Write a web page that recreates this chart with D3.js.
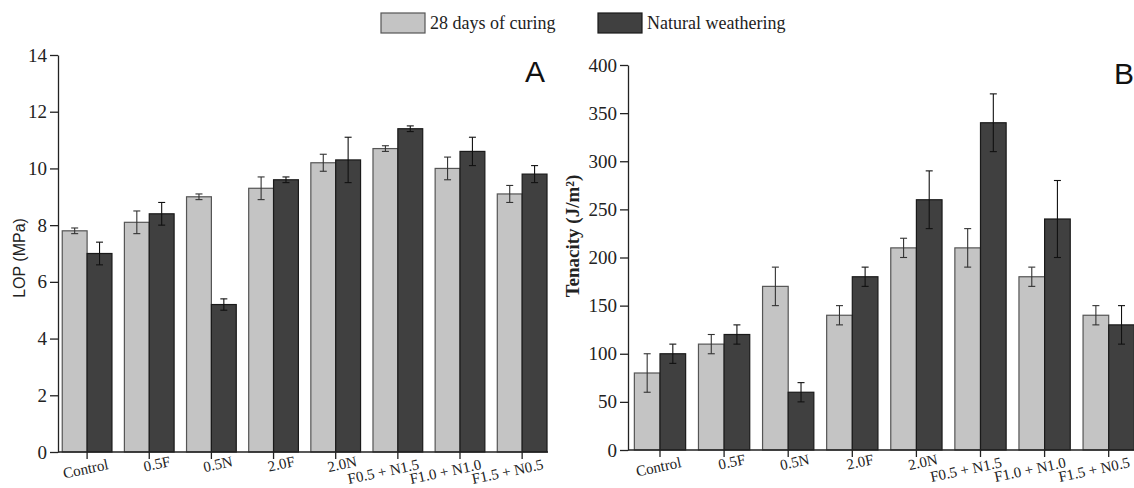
<!DOCTYPE html>
<html>
<head>
<meta charset="utf-8">
<script src="https://cdn.jsdelivr.net/npm/d3@7"></script>
<style>
  body { margin: 0; background: #fff; }
  svg { display: block; }
</style>
</head>
<body>
<div id="chart"></div>
<script>
// values
var categories = ["Control", "0.5F", "0.5N", "2.0F", "2.0N", "F0.5 + N1.5", "F1.0 + N1.0", "F1.5 + N0.5"];
var seriesNames = ["28 days of curing", "Natural weathering"];

var lopCuring = [7.8, 8.1, 9.0, 9.3, 10.2, 10.7, 10.0, 9.1];
var lopCuringErr = [0.1, 0.4, 0.1, 0.4, 0.3, 0.1, 0.4, 0.3];
var lopWeather = [7.0, 8.4, 5.2, 9.6, 10.3, 11.4, 10.6, 9.8];
var lopWeatherErr = [0.4, 0.4, 0.2, 0.1, 0.8, 0.1, 0.5, 0.3];

var tenCuring = [80, 110, 170, 140, 210, 210, 180, 140];
var tenCuringErr = [20, 10, 20, 10, 10, 20, 10, 10];
var tenWeather = [100, 120, 60, 180, 260, 340, 240, 130];
var tenWeatherErr = [10, 10, 10, 10, 30, 30, 40, 20];

var lopTicks = [0, 2, 4, 6, 8, 10, 12, 14];
var tenTicks = [0, 50, 100, 150, 200, 250, 300, 350, 400];

var colors = ["#c4c4c4", "#404040"];
var strokes = ["#555", "#1a1a1a"];

var width = 1134, height = 488;

var svg = d3.select("#chart").append("svg")
  .attr("width", width)
  .attr("height", height);

// legend
var legend = svg.append("g");
var legendX = [381, 598];
seriesNames.forEach(function(name, i) {
  legend.append("rect")
    .attr("x", legendX[i]).attr("y", 13)
    .attr("width", 44).attr("height", 20)
    .attr("fill", colors[i])
    .attr("stroke", strokes[i]).attr("stroke-width", 1.2);
  legend.append("text")
    .attr("x", legendX[i] + 49).attr("y", 29)
    .attr("font-family", "Liberation Serif")
    .attr("font-size", 18)
    .attr("fill", "#222")
    .text(name);
});

function makeRows(a, ae, b, be) {
  return categories.map(function(c, i) {
    return { cat: c, vals: [ { s: 0, v: a[i], e: ae[i] }, { s: 1, v: b[i], e: be[i] } ] };
  });
}

function panel(opt) {
  var g = svg.append("g");

  var step = opt.step;
  var x = d3.scaleBand()
    .domain(categories)
    .range([opt.firstCenter - step / 2, opt.firstCenter + (categories.length - 0.5) * step])
    .paddingInner(0.2)
    .paddingOuter(0.1);

  var xs = d3.scaleBand()
    .domain([0, 1])
    .range([0, x.bandwidth()]);

  var y = d3.scaleLinear()
    .domain([0, opt.ticks[opt.ticks.length - 1]])
    .range([opt.bottom, opt.top]);

  var groups = g.selectAll(".grp")
    .data(opt.rows)
    .join("g")
      .attr("transform", d => `translate(${x(d.cat)},0)`);

  groups.selectAll("rect")
    .data(d => d.vals)
    .join("rect")
      .attr("x", d => xs(d.s))
      .attr("y", d => y(d.v))
      .attr("width", xs.bandwidth())
      .attr("height", d => y(0) - y(d.v))
      .attr("fill", d => colors[d.s])
      .attr("stroke", d => strokes[d.s])
      .attr("stroke-width", 1.2);

  // error bars
  var err = groups.selectAll(".err")
    .data(d => d.vals)
    .join("g").attr("class", "err")
      .attr("stroke", d => d.s == 0 ? "#333" : "#111")
      .attr("stroke-width", 1.1);

  err.append("line")
    .attr("x1", d => xs(d.s) + xs.bandwidth() / 2)
    .attr("x2", d => xs(d.s) + xs.bandwidth() / 2)
    .attr("y1", d => y(d.v + d.e))
    .attr("y2", d => y(d.v - d.e));
  err.append("line")
    .attr("x1", d => xs(d.s) + xs.bandwidth() / 2 - 3.5)
    .attr("x2", d => xs(d.s) + xs.bandwidth() / 2 + 3.5)
    .attr("y1", d => y(d.v + d.e))
    .attr("y2", d => y(d.v + d.e));
  err.append("line")
    .attr("x1", d => xs(d.s) + xs.bandwidth() / 2 - 3.5)
    .attr("x2", d => xs(d.s) + xs.bandwidth() / 2 + 3.5)
    .attr("y1", d => y(d.v - d.e))
    .attr("y2", d => y(d.v - d.e));

  // y axis
  var ya = g.append("g")
    .attr("transform", `translate(${opt.left},0)`)
    .call(d3.axisLeft(y).tickValues(opt.ticks).tickSize(8).tickSizeOuter(0).tickPadding(3));
  ya.selectAll("text")
    .attr("font-family", "Liberation Serif")
    .attr("font-size", 19)
    .attr("fill", "#222");
  ya.selectAll("line, path").attr("stroke", "#222").attr("stroke-width", 1.3);

  // x axis
  var xa = g.append("g")
    .attr("transform", `translate(0,${opt.bottom})`)
    .call(d3.axisBottom(x).tickSize(7).tickFormat(""));
  xa.select(".domain").remove();
  xa.selectAll("line").attr("stroke", "#222").attr("stroke-width", 1.3);
  g.append("line")
    .attr("x1", opt.left).attr("x2", opt.right)
    .attr("y1", opt.bottom).attr("y2", opt.bottom)
    .attr("stroke", "#222").attr("stroke-width", 1.3);

  g.selectAll(".xlab")
    .data(categories)
    .join("text")
      .attr("class", "xlab")
      .attr("text-anchor", "end")
      .attr("font-family", "Liberation Serif")
      .attr("font-size", 15)
      .attr("fill", "#222")
      .attr("transform", d => `translate(${x(d) + x.bandwidth() / 2 + 22},${opt.bottom + (d.length > 5 ? 17 : 14)}) rotate(-12)`)
      .text(d => d);

  // axis title
  g.append("text")
    .attr("transform", `translate(${opt.titleX},${opt.titleY}) rotate(-90)`)
    .attr("text-anchor", "middle")
    .attr("font-family", opt.titleFont)
    .attr("font-weight", opt.titleWeight)
    .attr("font-size", opt.titleSize)
    .attr("fill", "#222")
    .text(opt.title);

  g.append("text")
    .attr("x", opt.letterX).attr("y", opt.letterY)
    .attr("font-family", "Liberation Sans")
    .attr("font-size", 30)
    .attr("fill", "#111")
    .text(opt.letter);
}

panel({
  rows: makeRows(lopCuring, lopCuringErr, lopWeather, lopWeatherErr),
  ticks: lopTicks,
  firstCenter: 87.1, step: 62.15,
  left: 58, right: 548, top: 55, bottom: 452,
  title: "LOP (MPa)", titleX: 25, titleY: 258,
  titleFont: "Liberation Sans", titleWeight: "normal", titleSize: 16,
  letter: "A", letterX: 525, letterY: 82
});

panel({
  rows: makeRows(tenCuring, tenCuringErr, tenWeather, tenWeatherErr),
  ticks: tenTicks,
  firstCenter: 660, step: 64.1,
  left: 628, right: 1134, top: 65, bottom: 450,
  title: "Tenacity (J/m²)", titleX: 579, titleY: 236,
  titleFont: "Liberation Serif", titleWeight: "bold", titleSize: 19,
  letter: "B", letterX: 1114, letterY: 84
});
</script>
</body>
</html>
